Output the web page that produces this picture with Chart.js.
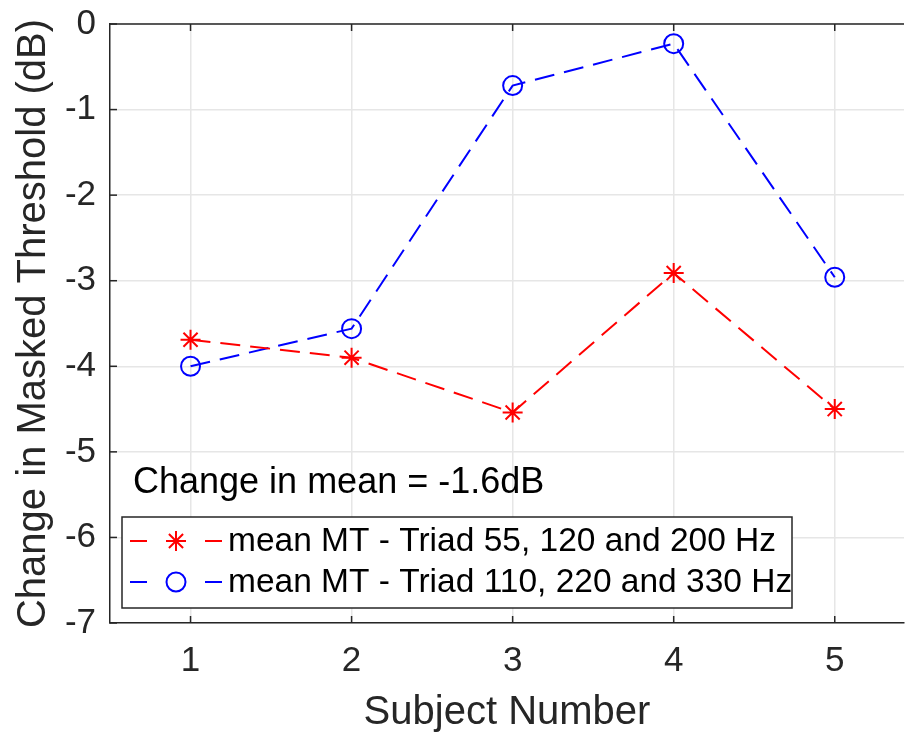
<!DOCTYPE html>
<html>
<head>
<meta charset="utf-8">
<script src="https://cdn.jsdelivr.net/npm/chart.js@4.4.1/dist/chart.umd.min.js"></script>
<style>
    html, body { margin: 0; padding: 0; background: #fff; overflow: hidden; }
    #wrap { width: 916px; height: 732px; position: relative; }
</style>
</head>
<body>
<div id="wrap"><canvas id="mtChart" width="916" height="732"></canvas></div>
<script>
// Subject numbers and mean masked threshold changes (dB)
const subjects = [1, 2, 3, 4, 5];
const triadLow = [-3.69, -3.90, -4.54, -2.91, -4.50];
const triadHigh = [-4.00, -3.56, -0.72, -0.23, -2.96];
const yTicks = [0, -1, -2, -3, -4, -5, -6, -7];
const seriesLabels = [
    'mean MT - Triad 55, 120 and 200 Hz',
    'mean MT - Triad 110, 220 and 330 Hz'
];
const noteText = 'Change in mean = -1.6dB';

const FONT = '"Liberation Sans", Arial, Helvetica, sans-serif';
const AXIS_COLOR = '#262626';
const GRID_COLOR = '#e6e6e6';

function toPoints(values) {
    return subjects.map((s, i) => ({ x: s, y: values[i] }));
}

// draws the box top line, inward tick marks, text note and the legend
const matlabDecor = {
    id: 'matlabDecor',
    afterDraw(chart) {
        const ctx = chart.ctx;
        const area = chart.chartArea;
        const xs = chart.scales.x;
        const ys = chart.scales.y;
        ctx.save();

        // top box line
        ctx.strokeStyle = AXIS_COLOR;
        ctx.lineWidth = 1.5;
        ctx.beginPath();
        ctx.moveTo(area.left, area.top);
        ctx.lineTo(area.right, area.top);
        ctx.stroke();

        // inward tick marks
        xs.ticks.forEach(t => {
            const px = xs.getPixelForValue(t.value);
            ctx.beginPath();
            ctx.moveTo(px, area.bottom);
            ctx.lineTo(px, area.bottom - 7);
            ctx.moveTo(px, area.top);
            ctx.lineTo(px, area.top + 7);
            ctx.stroke();
        });
        ys.ticks.forEach(t => {
            const py = ys.getPixelForValue(t.value);
            ctx.beginPath();
            ctx.moveTo(area.left, py);
            ctx.lineTo(area.left + 7, py);
            ctx.stroke();
        });

        // note text
        ctx.fillStyle = '#000';
        ctx.font = '36px ' + FONT;
        ctx.textAlign = 'left';
        ctx.textBaseline = 'middle';
        ctx.fillText(noteText, 133, 483);

        // legend
        const box = { x: 122, y: 517, w: 670, h: 91 };
        ctx.fillStyle = '#fff';
        ctx.fillRect(box.x, box.y, box.w, box.h);
        ctx.strokeStyle = AXIS_COLOR;
        ctx.lineWidth = 1.5;
        ctx.strokeRect(box.x, box.y, box.w, box.h);

        chart.data.datasets.forEach((ds, i) => {
            const cy = box.y + 24 + i * 41;
            ctx.strokeStyle = ds.borderColor;
            ctx.lineWidth = 2;
            ctx.setLineDash([]);
            ctx.beginPath();
            ctx.moveTo(130, cy); ctx.lineTo(147, cy);
            ctx.moveTo(205, cy); ctx.lineTo(222, cy);
            ctx.stroke();
            ctx.fillStyle = ds.backgroundColor;
            ctx.strokeStyle = ds.pointBorderColor;
            ctx.lineWidth = ds.pointBorderWidth;
            Chart.helpers.drawPoint(ctx, {
                pointStyle: ds.pointStyle,
                radius: ds.pointRadius,
                borderWidth: ds.pointBorderWidth,
                rotation: 0
            }, 176, cy);
            ctx.fillStyle = '#000';
            ctx.font = '33.5px ' + FONT;
            ctx.textBaseline = 'middle';
            ctx.fillText(ds.label, 228, cy + 1);
        });
        ctx.restore();
    }
};

const ctx = document.getElementById('mtChart').getContext('2d');
new Chart(ctx, {
    type: 'line',
    data: {
        datasets: [{
            label: seriesLabels[0],
            data: toPoints(triadLow),
            borderColor: '#ff0000',
            backgroundColor: '#ff0000',
            borderWidth: 2,
            borderDash: [20, 10],
            pointStyle: 'star',
            pointRadius: 10,
            pointBorderWidth: 2,
            pointBorderColor: '#ff0000',
            tension: 0
        }, {
            label: seriesLabels[1],
            data: toPoints(triadHigh),
            borderColor: '#0000ff',
            backgroundColor: 'rgba(0,0,0,0)',
            borderWidth: 2,
            borderDash: [20, 10],
            pointStyle: 'circle',
            pointRadius: 9.5,
            pointBorderWidth: 2,
            pointBorderColor: '#0000ff',
            tension: 0
        }]
    },
    options: {
        responsive: false,
        animation: false,
        layout: { padding: { top: 24, right: 0, left: 0, bottom: 0 } },
        plugins: {
            legend: { display: false },
            tooltip: { enabled: false }
        },
        scales: {
            x: {
                type: 'linear',
                min: 0.5,
                max: 5.43,
                afterBuildTicks: s => { s.ticks = subjects.map(v => ({ value: v })); },
                afterFit: s => { s.height = 109; s.paddingLeft = 0; s.paddingRight = 0; },
                grid: { color: GRID_COLOR, lineWidth: 1.5, drawTicks: false },
                border: { color: AXIS_COLOR, width: 1.5 },
                ticks: {
                    color: '#262626',
                    font: { family: FONT, size: 35 },
                    padding: 17,
                    maxRotation: 0
                },
                title: {
                    display: true,
                    text: 'Subject Number',
                    color: '#262626',
                    font: { family: FONT, size: 40 },
                    padding: { top: 0, bottom: -5 }
                }
            },
            y: {
                min: -7,
                max: 0,
                afterBuildTicks: s => { s.ticks = yTicks.map(v => ({ value: v })); },
                afterFit: s => { s.width = 110; s.paddingTop = 0; s.paddingBottom = 0; },
                grid: { color: GRID_COLOR, lineWidth: 1.5, drawTicks: false },
                border: { color: AXIS_COLOR, width: 1.5 },
                ticks: {
                    color: '#262626',
                    font: { family: FONT, size: 35 },
                    padding: 14
                },
                title: {
                    display: true,
                    text: 'Change in Masked Threshold (dB)',
                    color: '#262626',
                    font: { family: FONT, size: 40 },
                    padding: { top: 10, bottom: 0 }
                }
            }
        }
    },
    plugins: [matlabDecor]
});
</script>
</body>
</html>
